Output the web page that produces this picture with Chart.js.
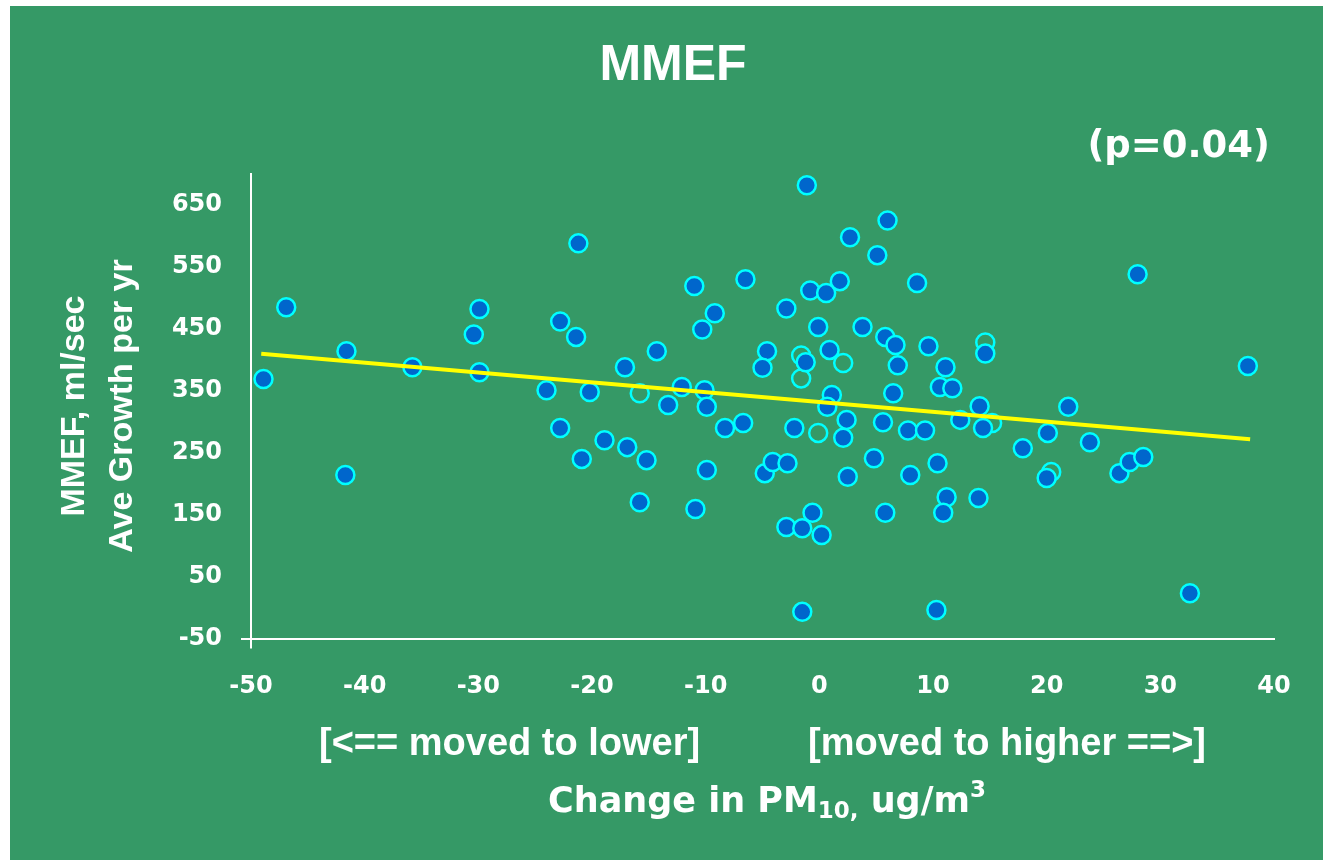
<!DOCTYPE html>
<html>
<head>
<meta charset="utf-8">
<script src="https://cdn.jsdelivr.net/npm/chart.js@4"></script>
<style>
  body { margin: 0; background: #fff; }
</style>
</head>
<body>
<canvas id="myChart" width="1323" height="866"></canvas>
<script>
// change in PM10 (x) and MMEF growth (y), one entry per child
var pmChange = [-48.9, -46.9, -41.6, -41.7, -35.8, -30.4, -29.9, -29.9, -24.0, -22.8,
    -22.8, -21.2, -21.4, -20.9, -20.2, -18.9, -17.1, -16.9, -15.2, -15.8,
    -14.3, -13.3, -12.1, -11.0, -10.9, -10.3, -10.1, -9.9, -9.9, -9.2,
    -8.3, -6.7, -6.5, -4.6, -5.0, -4.8, -4.1, -2.8, -2.9, -2.2,
    -2.9, -1.5, -1.1, -0.8, -1.2, -0.6, -1.5, -0.1, 0.2, 0.6,
    0.9, 1.1, 0.7, 1.8, 2.1, 2.4, 2.5, 2.7, 3.8, 4.8,
    5.1, 5.6, 5.8, 5.8, 6.0, 6.5, 6.7, 6.9, 7.8, 8.0,
    8.6, 9.3, 9.6, 10.4, 10.3, 10.6, 11.1, 11.2, 10.9, 11.7,
    12.4, 14.0, 14.1, 14.4, 14.6, 17.9, 20.1, 20.0, 21.9, 23.8,
    26.4, 27.3, 28.5, 28.0, 32.6, 37.7];
var mmefGrowth = [369, 485, 414, 214, 388, 441, 482, 380, 351, 462,
    290, 588, 437, 240, 348, 270, 388, 259, 238, 170,
    414, 327, 356, 519, 159, 449, 351, 324, 222, 475,
    290, 298, 530, 414, 387, 217, 235, 233, 483, 290,
    130, 128, 682, 512, 396, 153, -7, 453, 117, 508,
    416, 343, 324, 527, 274, 303, 211, 598, 453, 241,
    569, 299, 437, 153, 625, 346, 424, 391, 286, 214,
    524, 286, 422, 233, -4, 356, 388, 178, 153, 354,
    303, 177, 325, 290, 410, 257, 282, 209, 324, 267,
    217, 235, 243, 538, 23, 390];

// points that show only the outline
var hollowPm = [-15.8, -1.6, -1.6, 2.1, -0.1, 14.6, 20.4, 15.2];
var hollowMmef = [346, 370, 407, 395, 282, 428, 219, 298];

// regression line end points
var fitPm = [-49.1, 37.9];
var fitMmef = [409.9, 271.9];

var yTicks = [-50, 50, 150, 250, 350, 450, 550, 650];

function toPoints(xs, ys) {
    return xs.map(function (x, i) { return { x: x, y: ys[i] }; });
}

var tickFont = { family: '"DejaVu Sans"', size: 24, weight: 'bold' };

function firstTickOnly(ctx) {
    return ctx.index === 0 ? '#ffffff' : 'rgba(0,0,0,0)';
}

var textPlugin = {
    id: 'texts',
    beforeDraw: function (chart) {
        var c = chart.ctx;
        c.save();
        c.fillStyle = '#ffffff';
        c.fillRect(0, 0, chart.width, chart.height);
        c.fillStyle = '#359966';
        c.fillRect(10, 6, chart.width - 10, 854);
        c.restore();
    },
    afterDraw: function (chart) {
        var c = chart.ctx;
        c.save();
        c.fillStyle = '#ffffff';
        c.textBaseline = 'alphabetic';

        c.textAlign = 'center';
        c.font = 'bold 50px "Liberation Sans"';
        c.fillText('MMEF', 673, 80);

        c.textAlign = 'right';
        c.font = 'bold 37px "DejaVu Sans"';
        c.fillText('(p=0.04)', 1270, 157);

        // y axis title, two lines
        c.save();
        c.translate(0, 406);
        c.rotate(-Math.PI / 2);
        c.textAlign = 'center';
        c.font = 'bold 34px "Liberation Sans"';
        c.fillText('MMEF, ml/sec', 0, 84);
        c.fillText('Ave Growth per yr', 0, 132);
        c.restore();

        // x axis notes
        c.textAlign = 'left';
        c.font = 'bold 38px "Liberation Sans"';
        c.fillText('[<== moved to lower]', 319, 755);
        c.fillText('[moved to higher ==>]', 808, 755);

        // Change in PM10, ug/m3
        var big = 'bold 35px "DejaVu Sans"';
        var small = 'bold 23px "DejaVu Sans"';
        var parts = [
            { t: 'Change in PM', f: big, dy: 0 },
            { t: '10,', f: small, dy: 6 },
            { t: ' ug/m', f: big, dy: 0 },
            { t: '3', f: small, dy: -15 }
        ];
        var total = 0;
        parts.forEach(function (p) { c.font = p.f; total += c.measureText(p.t).width; });
        var x = 767 - total / 2;
        parts.forEach(function (p) {
            c.font = p.f;
            c.fillText(p.t, x, 812 + p.dy);
            x += c.measureText(p.t).width;
        });
        c.restore();
    }
};

var ctx = document.getElementById('myChart').getContext('2d');
var myChart = new Chart(ctx, {
    type: 'scatter',
    data: {
        datasets: [{
            type: 'line',
            label: 'fit',
            data: toPoints(fitPm, fitMmef),
            borderColor: '#ffff00',
            borderWidth: 4,
            pointRadius: 0,
            showLine: true,
            order: 0
        }, {
            label: 'MMEF',
            data: toPoints(pmChange, mmefGrowth),
            backgroundColor: '#0066cc',
            borderColor: '#00ffff',
            borderWidth: 2.5,
            pointRadius: 9,
            order: 1
        }, {
            label: 'MMEF outline',
            data: toPoints(hollowPm, hollowMmef),
            backgroundColor: 'rgba(0,0,0,0)',
            borderColor: '#00ffff',
            borderWidth: 2.5,
            pointRadius: 9,
            order: 2
        }]
    },
    options: {
        responsive: false,
        animation: false,
        layout: { padding: { left: 0, top: 174, right: 49, bottom: 0 } },
        plugins: {
            legend: { display: false },
            tooltip: { enabled: false }
        },
        scales: {
            x: {
                type: 'linear',
                min: -50,
                max: 40,
                ticks: { stepSize: 10, color: '#ffffff', font: tickFont, padding: 24 },
                grid: {
                    drawOnChartArea: false, drawTicks: true, tickLength: 10,
                    lineWidth: 2, color: firstTickOnly
                },
                border: { display: true, color: '#ffffff', width: 2 },
                afterFit: function (scale) { scale.height = 227.5; }
            },
            y: {
                min: -50,
                max: 700,
                afterBuildTicks: function (scale) {
                    scale.ticks = yTicks.map(function (v) { return { value: v }; });
                },
                ticks: { color: '#ffffff', font: tickFont, padding: 19 },
                grid: {
                    drawOnChartArea: false, drawTicks: true, tickLength: 10,
                    lineWidth: 2, color: firstTickOnly
                },
                border: { display: true, color: '#ffffff', width: 2 },
                afterFit: function (scale) { scale.width = 251; }
            }
        }
    },
    plugins: [textPlugin]
});
</script>
</body>
</html>
